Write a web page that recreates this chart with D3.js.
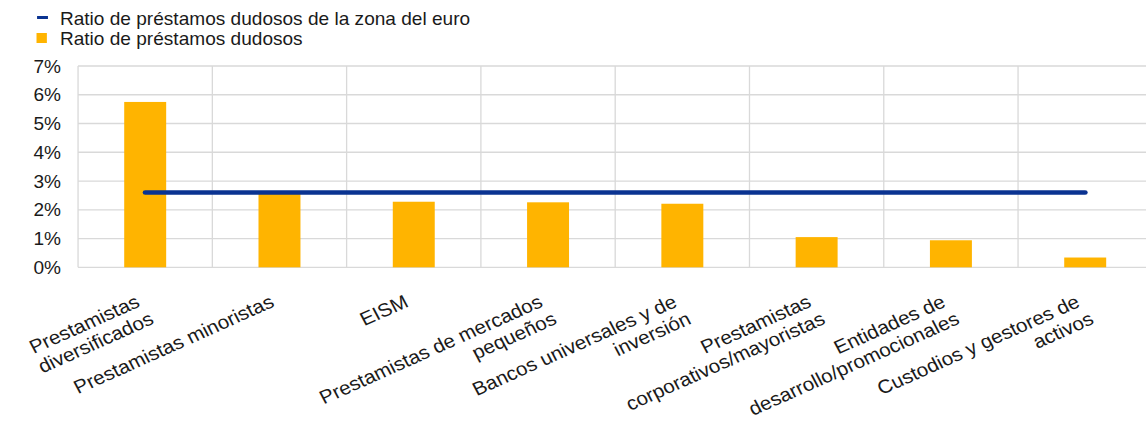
<!DOCTYPE html>
<html>
<head>
<meta charset="utf-8">
<script src="https://cdn.jsdelivr.net/npm/d3@7/dist/d3.min.js"></script>
<style>
  html, body { margin: 0; padding: 0; background: #fff; }
  svg { display: block; }
  text { font-family: "Liberation Sans", Arial, sans-serif; fill: #1a1a1a; }
</style>
</head>
<body>
<div id="chart"></div>
<script>
// ---- data ----
const categoryLines = [
  ["Prestamistas", "diversificados"],
  ["Prestamistas minoristas"],
  ["EISM"],
  ["Prestamistas de mercados", "pequeños"],
  ["Bancos universales y de", "inversión"],
  ["Prestamistas", "corporativos/mayoristas"],
  ["Entidades de", "desarrollo/promocionales"],
  ["Custodios y gestores de", "activos"]
];
const categories = categoryLines.map(l => l.join(" "));
const nplRatio = [5.75, 2.58, 2.28, 2.26, 2.21, 1.05, 0.94, 0.34];
const euroAreaRatio = [2.6, 2.6, 2.6, 2.6, 2.6, 2.6, 2.6, 2.6];
const yTicks = [0, 1, 2, 3, 4, 5, 6, 7];
const legendLabels = ["Ratio de préstamos dudosos de la zona del euro", "Ratio de préstamos dudosos"];

// ---- layout ----
const sx = 1.09;               // horizontal stretch of the reference
const W = 1146 / sx, H = 430;
const plotLeft = 71.6, step = 123.2;
const plotTop = 66, plotBottom = 267.3;
const barColor = "#FFB400", lineColor = "#0a3391", gridColor = "#d9d9d9";

const svg = d3.select("#chart").append("svg")
  .attr("width", 1146).attr("height", H)
  .attr("viewBox", `0 0 ${W} ${H}`)
  .attr("preserveAspectRatio", "none");

const x = d3.scaleBand().domain(categories)
  .range([plotLeft, plotLeft + step * categories.length]).padding(0);
const y = d3.scaleLinear().domain([0, 7]).range([plotBottom, plotTop]);

// horizontal gridlines
svg.append("g").selectAll("line").data(yTicks).join("line")
  .attr("x1", plotLeft).attr("x2", W + 10)
  .attr("y1", d => y(d)).attr("y2", d => y(d))
  .attr("stroke", gridColor).attr("stroke-width", 1.3);

// vertical gridlines
const vx = categories.map(c => x(c)).concat([x(categories[categories.length - 1]) + x.bandwidth()]);
svg.append("g").selectAll("line").data(vx).join("line")
  .attr("x1", d => d).attr("x2", d => d)
  .attr("y1", plotTop).attr("y2", plotBottom)
  .attr("stroke", gridColor).attr("stroke-width", 1.2);

// y axis labels
const yAxis = d3.axisLeft(y).tickValues(yTicks).tickFormat(d => d + "%").tickSize(0).tickPadding(0);
const yg = svg.append("g").attr("transform", `translate(56,0)`).call(yAxis);
yg.select(".domain").remove();
yg.selectAll("text").style("font-size", "17.5px").attr("dy", "0.35em");

// bars
const barW = x.bandwidth() * 0.3125;
svg.append("g").selectAll("rect").data(nplRatio).join("rect")
  .attr("x", (d, i) => x(categories[i]) + x.bandwidth() / 2 - barW / 2)
  .attr("width", barW)
  .attr("y", d => y(d))
  .attr("height", d => y(0) - y(d))
  .attr("fill", barColor);

// euro area line
const line = d3.line()
  .x((d, i) => x(categories[i]) + x.bandwidth() / 2)
  .y(d => y(d));
svg.append("path").datum(euroAreaRatio)
  .attr("d", line)
  .attr("fill", "none")
  .attr("stroke", lineColor)
  .attr("stroke-width", 4.6)
  .attr("stroke-linecap", "round");

// x labels (rotated, right-aligned multi-line blocks)
const angle = -26, lineH = 21;
categoryLines.forEach((lines, i) => {
  const cx = x(categories[i]) + x.bandwidth() / 2 - 3.7;
  const g = svg.append("g").attr("transform", `translate(${cx},306) rotate(${angle})`);
  lines.forEach((t, k) => g.append("text")
    .attr("x", k * 4)
    .attr("y", k * lineH)
    .attr("text-anchor", "end")
    .style("font-size", "19px")
    .text(t));
});

// legend
const lg = svg.append("g");
lg.append("line").attr("x1", 34).attr("x2", 44).attr("y1", 17.5).attr("y2", 17.5)
  .attr("stroke", lineColor).attr("stroke-width", 3);
lg.append("rect").attr("x", 33.5).attr("y", 33).attr("width", 9.5).attr("height", 10)
  .attr("fill", barColor);
lg.selectAll("text").data(legendLabels).join("text")
  .attr("x", 55).attr("y", (d, i) => 25 + i * 20)
  .style("font-size", "17.5px")
  .text(d => d);
</script>
</body>
</html>
